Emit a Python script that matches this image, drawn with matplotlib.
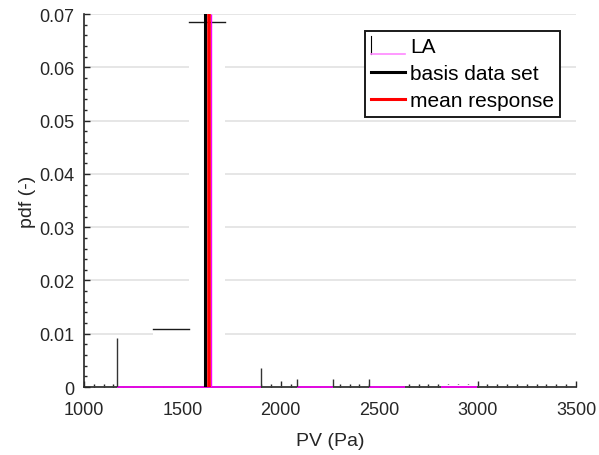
"""PDF of PV for the LA model against the basis data set and the mean response."""

import matplotlib

matplotlib.use("Agg")
import matplotlib.pyplot as plt  # noqa: E402
from matplotlib.legend_handler import HandlerBase  # noqa: E402
from matplotlib.lines import Line2D  # noqa: E402
from matplotlib.patches import Rectangle  # noqa: E402
from matplotlib.ticker import MultipleLocator  # noqa: E402

# LA histogram (bin edges in Pa, pdf per bin)
la_edges = [1168, 1351, 1534, 1717, 1900, 2083, 2266, 2449, 2632, 2815, 2998]
la_pdf = [0.0092, 0.0109, 0.0685, 0.0036, 0.0, 0.0016, 0.0, 0.0015, 0.0, 0.0004]
# bar sides that show up in the picture
la_side_x = [1168, 1900, 2083, 2266, 2449]
la_side_h = [0.0092, 0.0036, 0.0016, 0.0016, 0.0015]
la_line_x = 1648

basis_x = 1616
mean_x = 1638

x_ticks = [1000, 1500, 2000, 2500, 3000, 3500]
y_ticks = [0, 0.01, 0.02, 0.03, 0.04, 0.05, 0.06, 0.07]
y_tick_labels = ["0", "0.01", "0.02", "0.03", "0.04", "0.05", "0.06", "0.07"]

MAGENTA = "#ff00ff"
DARK = "#262626"

plt.rcParams["font.family"] = ["Liberation Sans", "DejaVu Sans"]


class HandlerLA(HandlerBase):
    """Legend key for LA: black left edge plus magenta bottom edge."""

    def create_artists(self, legend, orig_handle, xdescent, ydescent,
                       width, height, fontsize, trans):
        x0, y0 = -xdescent, -ydescent
        side = Line2D([x0, x0], [y0 - 0.1 * height, y0 + 1.1 * height],
                      color="black", lw=0.8, transform=trans)
        bottom = Line2D([x0, x0 + width], [y0 - 0.1 * height, y0 - 0.1 * height],
                        color="#ff88ff", lw=1.2, transform=trans)
        return [side, bottom]


fig = plt.figure(figsize=(5.99, 4.56), dpi=100)
ax = fig.add_axes([0.140, 0.149, 0.8216, 0.818])
ax.set_axisbelow(True)

# white-faced bars hide the grid and the inward ticks behind them
for left, right, h in zip(la_edges[:-1], la_edges[1:], la_pdf):
    if h <= 0:
        continue
    ax.add_patch(Rectangle((left, 0), right - left, h, facecolor="white",
                           edgecolor="none", zorder=1))
    ax.plot([left, right], [0, 0], color=MAGENTA, lw=1.2, zorder=3,
            clip_on=False, solid_capstyle="butt")
    if h > 0.01:
        ax.plot([left, right], [h, h], color="#1a1a1a", lw=1.0, zorder=3)
ax.vlines(la_side_x, 0, la_side_h, color="#333333", lw=1.0, zorder=3)
ax.vlines(la_line_x, 0, 0.07, color=MAGENTA, lw=1.0, zorder=3)

ax.axvline(basis_x, color="black", lw=2.2, zorder=4)
ax.axvline(mean_x, color="red", lw=2.6, zorder=4)

ax.set_xlim(1000, 3500)
ax.set_ylim(0, 0.07)
ax.set_xticks(x_ticks)
ax.set_yticks(y_ticks)
ax.set_yticklabels(y_tick_labels)
ax.xaxis.set_minor_locator(MultipleLocator(50))
ax.yaxis.set_minor_locator(MultipleLocator(0.002))
ax.tick_params(which="both", direction="in", color=DARK, width=1.0,
               labelcolor=DARK, labelsize=13, top=False, right=False)
ax.tick_params(which="major", length=4)
ax.tick_params(which="minor", length=2.5)
ax.tick_params(axis="x", pad=10)
ax.tick_params(axis="y", pad=7)
ax.grid(axis="y", color="#e2e2e2", lw=1.2)
ax.grid(axis="x", visible=False)

for side in ("top", "right"):
    ax.spines[side].set_visible(False)
for side in ("left", "bottom"):
    ax.spines[side].set_color(DARK)
    ax.spines[side].set_linewidth(1.2)

ax.set_xlabel("PV (Pa)", fontsize=14, color=DARK, labelpad=10)
ax.set_ylabel("pdf (-)", fontsize=14, color=DARK, labelpad=2)

la_key = object()
basis_key = Line2D([], [], color="black", lw=2.2)
mean_key = Line2D([], [], color="red", lw=2.2)
leg = ax.legend([la_key, basis_key, mean_key],
                ["LA", "basis data set", "mean response"],
                handler_map={la_key: HandlerLA()},
                loc="upper right", bbox_to_anchor=(0.9675, 0.954),
                borderaxespad=0, fontsize=15, handlelength=1.6,
                handletextpad=0.25, labelspacing=0.38, borderpad=0.3,
                fancybox=False, framealpha=1)
leg.get_frame().set_edgecolor("#1a1a1a")
leg.get_frame().set_linewidth(1.4)
leg.set_zorder(5)

fig.savefig("out.png", dpi=100)
